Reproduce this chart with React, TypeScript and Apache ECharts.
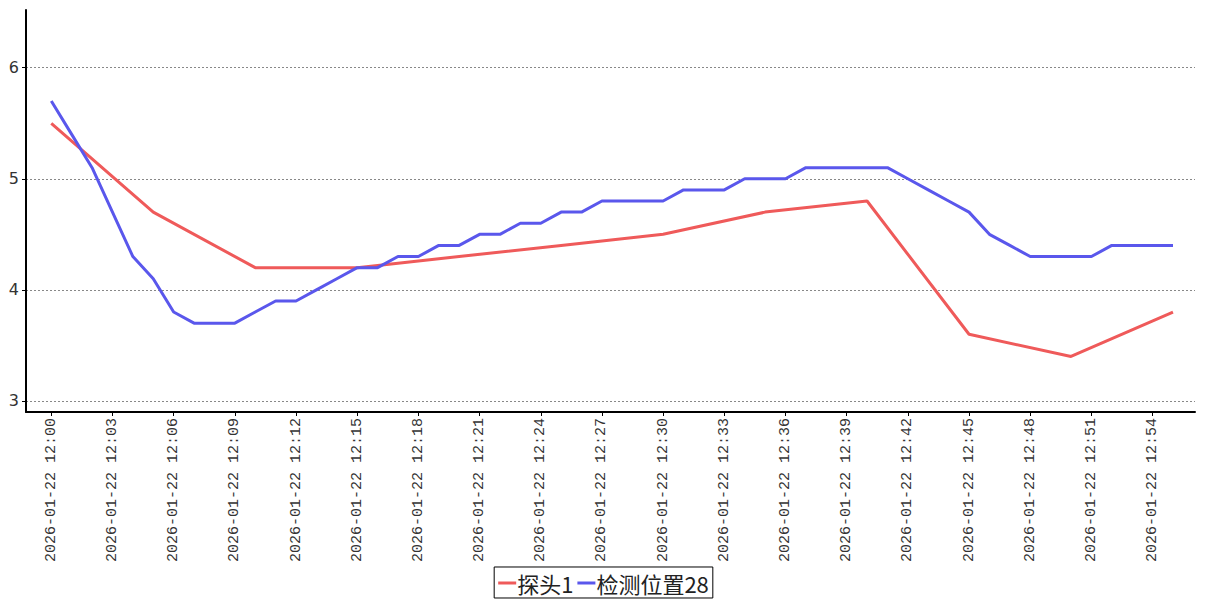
import React, { useEffect, useRef } from "react";
import * as echarts from "echarts";

// minutes after 12:00 on 2026-01-22
const DATE_PREFIX = "2026-01-22 12:";
const tickMinutes = [0, 3, 6, 9, 12, 15, 18, 21, 24, 27, 30, 33, 36, 39, 42, 45, 48, 51, 54];

// 探头1: sampled every 5 minutes
const probeMinutes = [0, 5, 10, 15, 20, 25, 30, 35, 40, 45, 50, 55];
const probeValues = [5.5, 4.7, 4.2, 4.2, 4.3, 4.4, 4.5, 4.7, 4.8, 3.6, 3.4, 3.8];

// 检测位置28: sampled every minute (12:00 .. 12:55)
const posValues = [
  5.7, 5.4, 5.1, 4.7, 4.3, 4.1, 3.8, 3.7, 3.7, 3.7,
  3.8, 3.9, 3.9, 4.0, 4.1, 4.2, 4.2, 4.3, 4.3, 4.4,
  4.4, 4.5, 4.5, 4.6, 4.6, 4.7, 4.7, 4.8, 4.8, 4.8,
  4.8, 4.9, 4.9, 4.9, 5.0, 5.0, 5.0, 5.1, 5.1, 5.1,
  5.1, 5.1, 5.0, 4.9, 4.8, 4.7, 4.5, 4.4, 4.3, 4.3,
  4.3, 4.3, 4.4, 4.4, 4.4, 4.4,
];

const yTicks = [3, 4, 5, 6];

const label = (m: number) => DATE_PREFIX + String(Math.round(m)).padStart(2, "0");

export default function App() {
  const ref = useRef<HTMLDivElement>(null);
  useEffect(() => {
    if (!ref.current) return;
    const chart = echarts.init(ref.current, null, { renderer: "svg" });
    chart.setOption({
      animation: false,
      backgroundColor: "#ffffff",
      grid: { left: 26, right: 12, top: 10, bottom: 188 },
      legend: {
        bottom: 2,
        left: "center",
        borderColor: "#000",
        borderWidth: 1,
        padding: [5, 4, 4, 4],
        itemGap: 4,
        itemWidth: 18,
        itemHeight: 3,
        icon: "rect",
        textStyle: {
          fontFamily: "Noto Sans CJK SC",
          fontSize: 22,
          color: "#222",
          padding: [0, 0, 0, -4],
        },
        data: ["探头1", "检测位置28"],
      },
      xAxis: {
        type: "value",
        min: -1.24,
        max: 56.08,
        axisLine: { show: true, onZero: false, lineStyle: { color: "#000", width: 2 } },
        axisTick: {
          show: true,
          customValues: tickMinutes,
          length: 4,
          lineStyle: { color: "#000", width: 1 },
        },
        splitLine: { show: false },
        axisLabel: {
          customValues: tickMinutes,
          rotate: 90,
          margin: 6,
          fontFamily: "Liberation Mono",
          fontSize: 15,
          color: "#333",
          formatter: (v: number) => label(v),
        },
      },
      yAxis: {
        type: "value",
        min: 2.9,
        max: 6.52,
        axisLine: { show: true, onZero: false, lineStyle: { color: "#000", width: 2 } },
        axisTick: {
          show: true,
          customValues: yTicks,
          length: 4,
          lineStyle: { color: "#000", width: 1 },
        },
        axisLabel: {
          customValues: yTicks,
          margin: 7,
          fontFamily: "DejaVu Sans",
          fontSize: 16,
          color: "#333",
        },
        splitLine: {
          show: true,
          lineStyle: { color: "#888", width: 1, type: [2, 2] },
        },
      },
      series: [
        {
          name: "探头1",
          type: "line",
          symbol: "none",
          color: "#EF5A5A",
          lineStyle: { width: 3, color: "#EF5A5A" },
          data: probeMinutes.map((m, i) => [m, probeValues[i]]),
        },
        {
          name: "检测位置28",
          type: "line",
          symbol: "none",
          color: "#5A57EC",
          lineStyle: { width: 3, color: "#5A57EC" },
          data: posValues.map((v, i) => [i, v]),
        },
      ],
    });
    return () => chart.dispose();
  }, []);
  return <div ref={ref} style={{ width: 1207, height: 600, position: "absolute", left: 0, top: 0 }} />;
}
